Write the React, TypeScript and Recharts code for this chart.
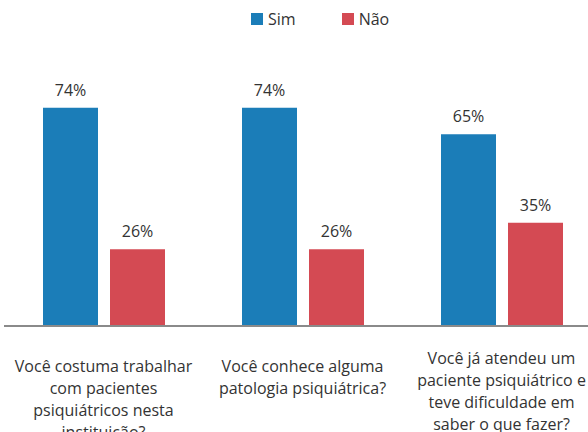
import { BarChart, Bar, XAxis, YAxis, Legend, LabelList } from 'recharts'

const categories = [
  'Você costuma trabalhar\ncom pacientes\npsiquiátricos nesta\ninstituição?',
  'Você conhece alguma\npatologia psiquiátrica?',
  'Você já atendeu um\npaciente psiquiátrico e\nteve dificuldade em\nsaber o que fazer?',
]
const sim = [74, 74, 65]
const nao = [26, 26, 35]

const COLORS = {
  sim: '#1b7db8',
  nao: '#d44a53',
  axis: '#8a8a8a',
  ink: '#333333',
}
const FONT = '"Open Sans", sans-serif'
// the last label sits a bit higher in the original
const tickShift = [0, 0, -8]

const data = categories.map((label, i) => ({ label, sim: sim[i], nao: nao[i] }))

function WrappedTick({ x, y, payload, index }: any) {
  const lines = String(payload.value).split('\n')
  const shift = tickShift[index] || 0
  return (
    <text x={x} y={y + shift} textAnchor="middle" fill={COLORS.ink} fontSize={16} fontFamily={FONT}>
      {lines.map((line, i) => (
        <tspan key={i} x={x} dy={i === 0 ? 46 : 22}>
          {line}
        </tspan>
      ))}
    </text>
  )
}

function TopLegend() {
  const items = [
    { name: 'Sim', color: COLORS.sim },
    { name: 'Não', color: COLORS.nao },
  ]
  return (
    <div
      style={{
        height: 31,
        boxSizing: 'border-box',
        display: 'flex',
        alignItems: 'flex-start',
        paddingTop: 10,
        paddingLeft: 251,
        fontFamily: FONT,
        fontSize: 16,
        lineHeight: '18px',
        color: COLORS.ink,
      }}
    >
      {items.map((it, i) => (
        <div key={it.name} style={{ display: 'flex', alignItems: 'center', marginRight: i === 0 ? 46 : 0 }}>
          <span style={{ width: 12, height: 12, background: it.color, display: 'inline-block', marginRight: 5 }} />
          <span>{it.name}</span>
        </div>
      ))}
    </div>
  )
}

export default function App() {
  return (
    <div style={{ position: 'fixed', left: 0, top: 0, width: 588, height: 432, overflow: 'hidden', background: '#fff' }}>
      <BarChart
        width={610}
        height={432}
        data={data}
        margin={{ top: 0, right: 9, bottom: 0, left: 4 }}
        barSize={55}
        barGap={12}
      >
        <Legend verticalAlign="top" content={<TopLegend />} wrapperStyle={{ left: 0, top: 0 }} />
        <XAxis
          dataKey="label"
          interval={0}
          height={106}
          tickLine={false}
          tickSize={0}
          tickMargin={0}
          axisLine={{ stroke: COLORS.axis, strokeWidth: 2 }}
          tick={<WrappedTick />}
        />
        <YAxis hide domain={[0, 100]} />
        <Bar dataKey="sim" name="Sim" fill={COLORS.sim} isAnimationActive={false}>
          <LabelList dataKey="sim" position="top" offset={12} formatter={(v: any) => `${v}%`} fill={COLORS.ink} fontSize={16} fontFamily={FONT} />
        </Bar>
        <Bar dataKey="nao" name="Não" fill={COLORS.nao} isAnimationActive={false}>
          <LabelList dataKey="nao" position="top" offset={12} formatter={(v: any) => `${v}%`} fill={COLORS.ink} fontSize={16} fontFamily={FONT} />
        </Bar>
      </BarChart>
    </div>
  )
}
